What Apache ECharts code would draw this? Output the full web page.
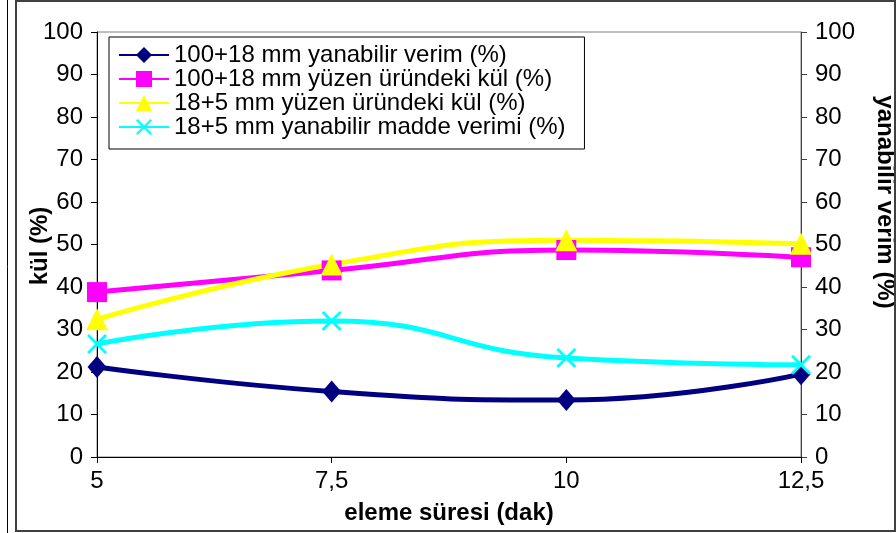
<!DOCTYPE html>
<html>
<head>
<meta charset="utf-8">
<script src="https://cdn.jsdelivr.net/npm/echarts@6/dist/echarts.min.js"></script>
<style>
html,body{margin:0;padding:0;background:#fff;}
#chart{width:896px;height:533px;}
</style>
</head>
<body>
<div id="chart"></div>
<script>
// ---- data ----
var xValues = [5, 7.5, 10, 12.5];
var xTicks = ['5', '7,5', '10', '12,5'];
var seriesNames = [
  '100+18 mm yanabilir verim (%)',
  '100+18 mm yüzen üründeki kül (%)',
  '18+5 mm yüzen üründeki kül (%)',
  '18+5 mm yanabilir madde verimi (%)'
];
var yanabilir100 = [21.2, 15.4, 13.4, 19.5];
var kul100 = [38.8, 43.9, 48.7, 47.0];
var kul18 = [32.4, 45.3, 51.0, 50.2];
var yanabilir18 = [26.6, 32.0, 23.3, 21.7];

function pairs(vals) { return xValues.map(function (x, i) { return [x, vals[i]]; }); }

var FONT = 'Liberation Sans, Arial, sans-serif';
var FS = 24;
var crossPath = 'path://M0,1L1,0L5,4L9,0L10,1L6,5L10,9L9,10L5,6L1,10L0,9L4,5Z';

var chart = echarts.init(document.getElementById('chart'), null, {renderer: 'canvas'});
var option = {
  animation: false,
  backgroundColor: '#ffffff',
  textStyle: {fontFamily: FONT},
  grid: {left: 97, right: 95, top: 32, bottom: 76, show: true, borderColor: '#808080', borderWidth: 1, backgroundColor: 'transparent'},
  legend: {
    orient: 'vertical', left: 109, top: 37,
    backgroundColor: '#ffffff', borderColor: '#000000', borderWidth: 1,
    padding: [6, 19, 10, 9], itemGap: 0, itemWidth: 50, itemHeight: 20,
    textStyle: {fontFamily: FONT, fontSize: FS, color: '#000', lineHeight: 21.3},
    data: seriesNames
  },
  xAxis: {
    type: 'value', min: 5, max: 12.5, interval: 2.5,
    axisLine: {lineStyle: {color: '#000', width: 1}},
    axisTick: {show: true, length: 6, lineStyle: {color: '#000'}},
    splitLine: {show: false},
    axisLabel: {fontFamily: FONT, fontSize: FS, color: '#000', margin: 12,
      formatter: function (v) { var i = xValues.indexOf(v); return i >= 0 ? xTicks[i] : ''; }}
  },
  yAxis: [
    {
      type: 'value', min: 0, max: 100, interval: 10, position: 'left',
      axisLine: {show: true, lineStyle: {color: '#000'}},
      axisTick: {show: true, length: 6, lineStyle: {color: '#000'}},
      splitLine: {show: false},
      axisLabel: {fontFamily: FONT, fontSize: FS, color: '#000', margin: 14}
    },
    {
      type: 'value', min: 0, max: 100, interval: 10, position: 'right',
      axisLine: {show: true, lineStyle: {color: '#404040'}},
      axisTick: {show: true, length: 6, lineStyle: {color: '#404040'}},
      splitLine: {show: false},
      axisLabel: {fontFamily: FONT, fontSize: FS, color: '#000', margin: 14}
    }
  ],
  series: [
    {
      name: seriesNames[0], type: 'line', yAxisIndex: 1, smooth: 0.5,
      data: pairs(yanabilir100), symbol: 'diamond', symbolSize: [19, 22],
      lineStyle: {color: '#000080', width: 5}, itemStyle: {color: '#000080'}
    },
    {
      name: seriesNames[1], type: 'line', yAxisIndex: 0, smooth: 0.5,
      data: pairs(kul100), symbol: 'rect', symbolSize: 20,
      lineStyle: {color: '#ff00ff', width: 5}, itemStyle: {color: '#ff00ff'}
    },
    {
      name: seriesNames[2], type: 'line', yAxisIndex: 0, smooth: 0.5,
      data: pairs(kul18), symbol: 'triangle', symbolSize: [22, 22],
      lineStyle: {color: '#ffff00', width: 5}, itemStyle: {color: '#ffff00'}
    },
    {
      name: seriesNames[3], type: 'line', yAxisIndex: 1, smooth: 0.5,
      data: pairs(yanabilir18), symbol: crossPath, symbolSize: 20,
      lineStyle: {color: '#00ffff', width: 5}, itemStyle: {color: '#00ffff'}
    }
  ],
  graphic: [
    {type: 'rect', shape: {x: 16, y: 1, width: 879, height: 530}, style: {fill: 'none', stroke: '#404040', lineWidth: 2}, silent: true, z: 100},
    {type: 'line', shape: {x1: 7.5, y1: 0, x2: 7.5, y2: 533}, style: {stroke: '#000', lineWidth: 1}, silent: true},
    {type: 'text', x: 40, y: 246, rotation: Math.PI / 2,
      style: {text: 'kül (%)', x: 0, y: 0, align: 'center', verticalAlign: 'middle', font: 'bold 24px ' + FONT, fill: '#000'}},
    {type: 'text', x: 885, y: 202, rotation: -Math.PI / 2,
      style: {text: 'yanabilir verim (%)', x: 0, y: 0, align: 'center', verticalAlign: 'middle', font: 'bold 24px ' + FONT, fill: '#000'}},
    {type: 'text', x: 449, y: 513,
      style: {text: 'eleme süresi (dak)', x: 0, y: 0, align: 'center', verticalAlign: 'middle', font: 'bold 24px ' + FONT, fill: '#000'}}
  ]
};
chart.setOption(option);
</script>
</body>
</html>
